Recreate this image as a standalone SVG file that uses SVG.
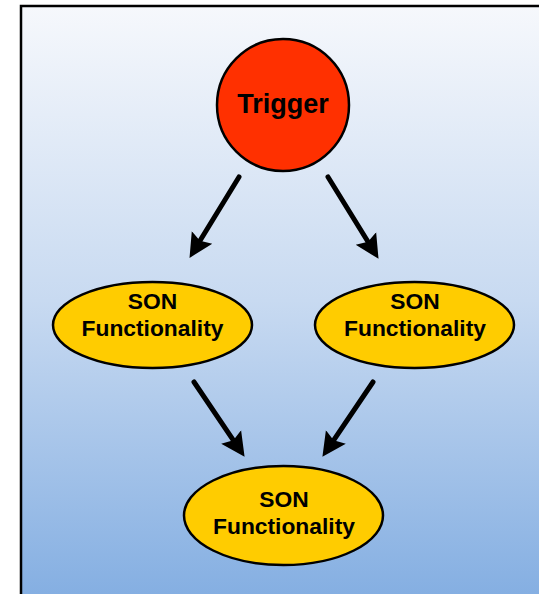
<svg xmlns="http://www.w3.org/2000/svg" width="539" height="594" viewBox="0 0 539 594">
<defs>
<linearGradient id="bg" gradientUnits="userSpaceOnUse" x1="0" y1="6" x2="0" y2="594">
<stop offset="0" stop-color="#f6f8fc"/>
<stop offset="0.5" stop-color="#c8daf1"/>
<stop offset="1" stop-color="#85afe2"/>
</linearGradient>
<marker id="ah" markerUnits="userSpaceOnUse" markerWidth="24" markerHeight="26" viewBox="0 0 24 26" refX="11" refY="13" orient="auto">
<path d="M0,1 L24,13 L0,25 L4,13 Z" fill="#000"/>
</marker>
<style>
.node ellipse{fill:#ffcc00;stroke:#000;stroke-width:2.5}
.lbl{font-family:"Liberation Sans",Arial,sans-serif;font-weight:bold;fill:#000;text-anchor:middle}
.son{font-size:22.8px}
#connectors line{stroke:#000;stroke-width:5;stroke-linecap:round;marker-end:url(#ah)}
</style>
</defs>
<rect id="frame" x="21" y="6" width="540" height="600" fill="url(#bg)" stroke="#000" stroke-width="2.5"/>
<g id="connectors">
<line x1="239" y1="177" x2="196.3" y2="246.8"/>
<line x1="328" y1="177" x2="371.7" y2="247.8"/>
<line x1="194" y1="382" x2="237.3" y2="446.1"/>
<line x1="373" y1="382" x2="329.7" y2="446.1"/>
</g>
<g id="trigger" class="node">
<circle cx="283" cy="105" r="66" fill="#ff3000" stroke="#000" stroke-width="2.5"/>
<text class="lbl" x="283" y="113" font-size="27">Trigger</text>
</g>
<g id="son-left" class="node">
<ellipse cx="152.5" cy="325" rx="99.5" ry="43"/>
<text class="lbl son" x="152.5" y="309">SON</text>
<text class="lbl son" x="152.5" y="336">Functionality</text>
</g>
<g id="son-right" class="node">
<ellipse cx="414.5" cy="325" rx="99.5" ry="43"/>
<text class="lbl son" x="415" y="309">SON</text>
<text class="lbl son" x="415" y="336">Functionality</text>
</g>
<g id="son-bottom" class="node">
<ellipse cx="283.5" cy="515.5" rx="99.5" ry="49.5"/>
<text class="lbl son" x="284" y="507">SON</text>
<text class="lbl son" x="284" y="534">Functionality</text>
</g>
</svg>
